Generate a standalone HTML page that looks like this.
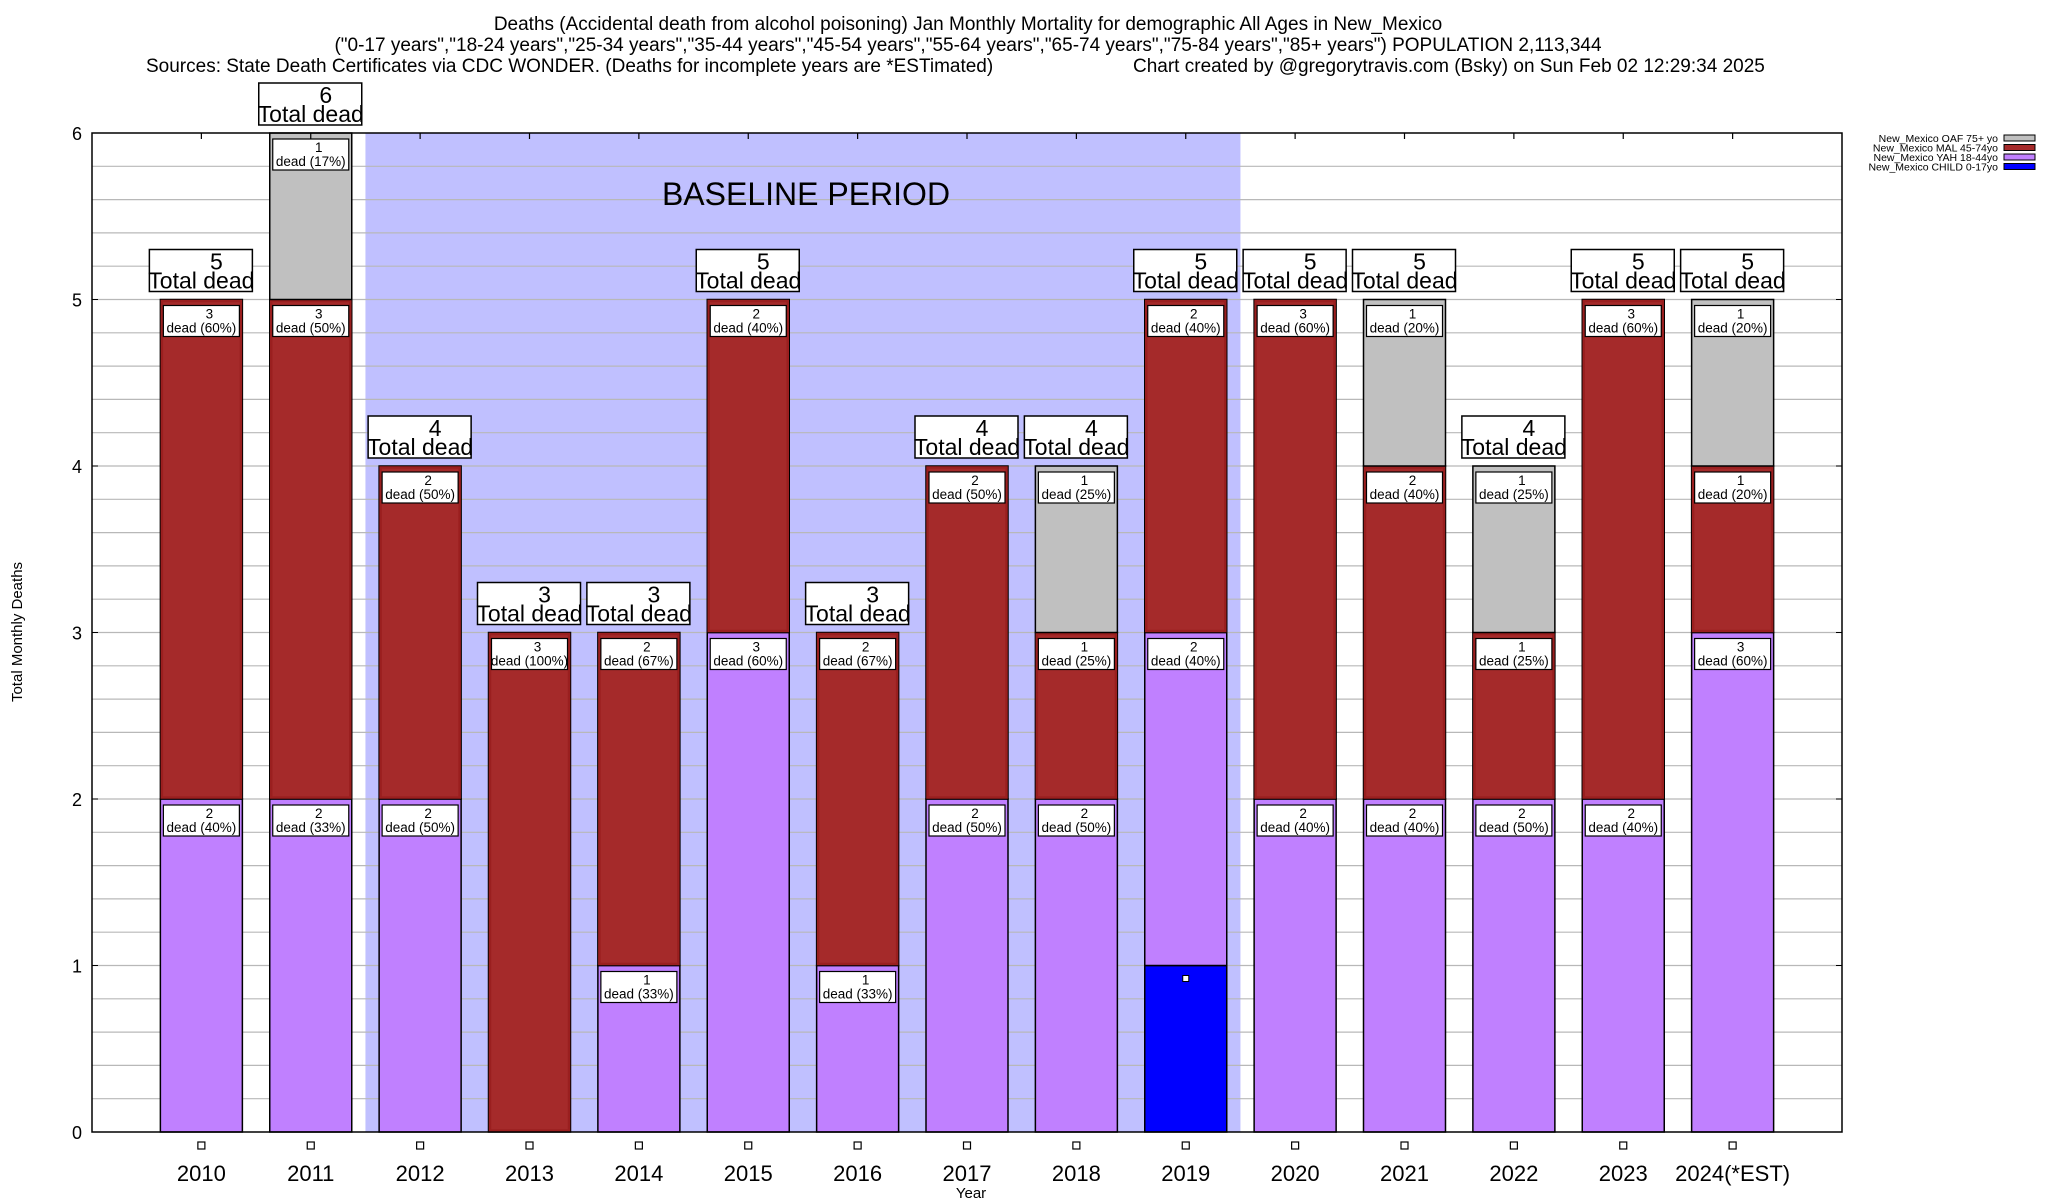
<!DOCTYPE html>
<html><head><meta charset="utf-8">
<style>
body{margin:0;background:#fff;}
svg{display:block;font-family:"Liberation Sans",Arial,sans-serif;}
</style></head>
<body>
<svg id="chart" width="2048" height="1200" viewBox="0 0 2048 1200" xmlns="http://www.w3.org/2000/svg">
<g font-size="19" text-anchor="middle" fill="#000">
<text x="968" y="30">Deaths (Accidental death from alcohol poisoning) Jan Monthly Mortality for demographic All Ages in New_Mexico</text>
<text x="968" y="51">("0-17 years","18-24 years","25-34 years","35-44 years","45-54 years","55-64 years","65-74 years","75-84 years","85+ years") POPULATION 2,113,344</text>
<text x="146" y="72" text-anchor="start">Sources: State Death Certificates via CDC WONDER. (Deaths for incomplete years are *ESTimated)</text>
<text x="1133" y="72" text-anchor="start">Chart created by @gregorytravis.com (Bsky) on Sun Feb 02 12:29:34 2025</text>
</g>
<g id="plot"></g>
</svg>
<script>
const categories = ["2010","2011","2012","2013","2014","2015","2016","2017","2018","2019","2020","2021","2022","2023","2024(*EST)"];
const child = [0,0,0,0,0,0,0,0,0,1,0,0,0,0,0];
const yah   = [2,2,2,0,1,3,1,2,2,2,2,2,2,2,3];
const mal   = [3,3,2,3,2,2,2,2,1,2,3,2,1,3,1];
const oaf   = [0,1,0,0,0,0,0,0,1,0,0,1,1,0,1];
const yTicks = [0,1,2,3,4,5,6];
const baselineStart = 2, baselineEnd = 9;

const NS="http://www.w3.org/2000/svg";
const L=92,R=1842,T=133,B=1132;
const slot=(R-L)/16;
const xPos=i=>L+slot*(i+1);
const yPos=v=>B-(B-T)*v/6;
const barW=82;
const g=document.getElementById('plot');
function mk(tag,attrs,parent){const e=document.createElementNS(NS,tag);for(const k in attrs)e.setAttribute(k,attrs[k]);(parent||g).appendChild(e);return e;}
function txt(x,y,s,size,anchor,parent){const t=mk('text',{x:x,y:y,'font-size':size,'text-anchor':anchor||'middle'},parent);t.textContent=s;return t;}

const bg=mk('rect',{x:L,y:T,width:R-L,height:B-T,fill:'#fff'});


const bs=mk('rect',{x:xPos(baselineStart)-slot/2,y:T,width:slot*(baselineEnd-baselineStart+1),height:B-T,fill:'#c0c0ff'});


for(let v=0.2;v<6;v+=0.2){
  const gl=mk('line',{x1:L,x2:R,y1:yPos(v),y2:yPos(v),stroke:'#b8b8b8','stroke-width':1.2});
  
  
}
const bt=txt(806,205,'BASELINE PERIOD',32);



const colors={child:'#0000ff',yah:'#c080ff',mal:'#a52a2a',oaf:'#c0c0c0'};
categories.forEach((c,i)=>{
  const x=xPos(i);
  const total=child[i]+yah[i]+mal[i]+oaf[i];
  let base=0;
  const segs=[['child',child[i]],['yah',yah[i]],['mal',mal[i]],['oaf',oaf[i]]];
  segs.forEach(([k,v])=>{
    if(v<=0)return;
    const y0=yPos(base+v),y1=yPos(base);
    const r=mk('rect',{x:x-barW/2,y:y0,width:barW,height:y1-y0,fill:colors[k],stroke:'#000','stroke-width':1.5});
    
    
    if(k==='mal'){mk('rect',{x:x-barW/2+1.5,y:y0+1.5,width:barW-3,height:y1-y0-3,fill:'none',stroke:'#9a1f1f','stroke-width':2.5});}
    if(k==='child'){
      const sq=mk('rect',{x:x-3,y:yPos(base+v)+10,width:6,height:6,fill:'#fff',stroke:'#000','stroke-width':1});
      
      
    } else {
      const lg=mk('g',{});
      
      
      mk('rect',{x:x-38,y:y0+6,width:76,height:31,fill:'#fff',stroke:'#000','stroke-width':1.2},lg);
      txt(x+8,y0+19,String(v),13.5,'middle',lg);
      txt(x,y0+33,'dead ('+Math.round(v/total*100)+'%)',13.5,'middle',lg);
    }
    base+=v;
  });
  const tg=mk('g',{});
  
  
  const ty=yPos(total);
  mk('rect',{x:x-52,y:ty-50,width:103,height:42,fill:'#fff',stroke:'#000','stroke-width':1.5},tg);
  txt(x+15,ty-30,String(total),23,'middle',tg);
  txt(x,ty-11,'Total dead',23,'middle',tg);
  mk('rect',{x:x-3.5,y:1142,width:7,height:7,fill:'#fff',stroke:'#000','stroke-width':1.2});
  mk('line',{x1:x,x2:x,y1:T,y2:T+6,stroke:'#000','stroke-width':1.2});
  const xl=txt(x,1181,c,22);
  
  
});
const fr=mk('rect',{x:L,y:T,width:R-L,height:B-T,fill:'none',stroke:'#000','stroke-width':1.5});


yTicks.forEach(v=>{
  const yl=txt(82,yPos(v)+7,String(v),18,'end');
  
  
  mk('line',{x1:L,x2:L+6,y1:yPos(v),y2:yPos(v),stroke:'#000'});
  mk('line',{x1:R-6,x2:R,y1:yPos(v),y2:yPos(v),stroke:'#000'});
});
const yt=txt(0,0,'Total Monthly Deaths',15);
yt.setAttribute('transform','translate(22,632) rotate(-90)');


const xt=txt(971,1198,'Year',15);


const legendNames=['New_Mexico OAF 75+ yo','New_Mexico MAL 45-74yo','New_Mexico YAH 18-44yo','New_Mexico CHILD 0-17yo'];
const legendColors=['#c0c0c0','#a52a2a','#c080ff','#0000ff'];
legendNames.forEach((n,j)=>{
  const lg=mk('g',{});
  
  
  const yy=138+j*9.5;
  txt(1998,yy+4,n,10.5,'end',lg);
  mk('rect',{x:2004,y:yy-3,width:31,height:6,fill:legendColors[j],stroke:'#000','stroke-width':1},lg);
});
</script>
</body></html>
